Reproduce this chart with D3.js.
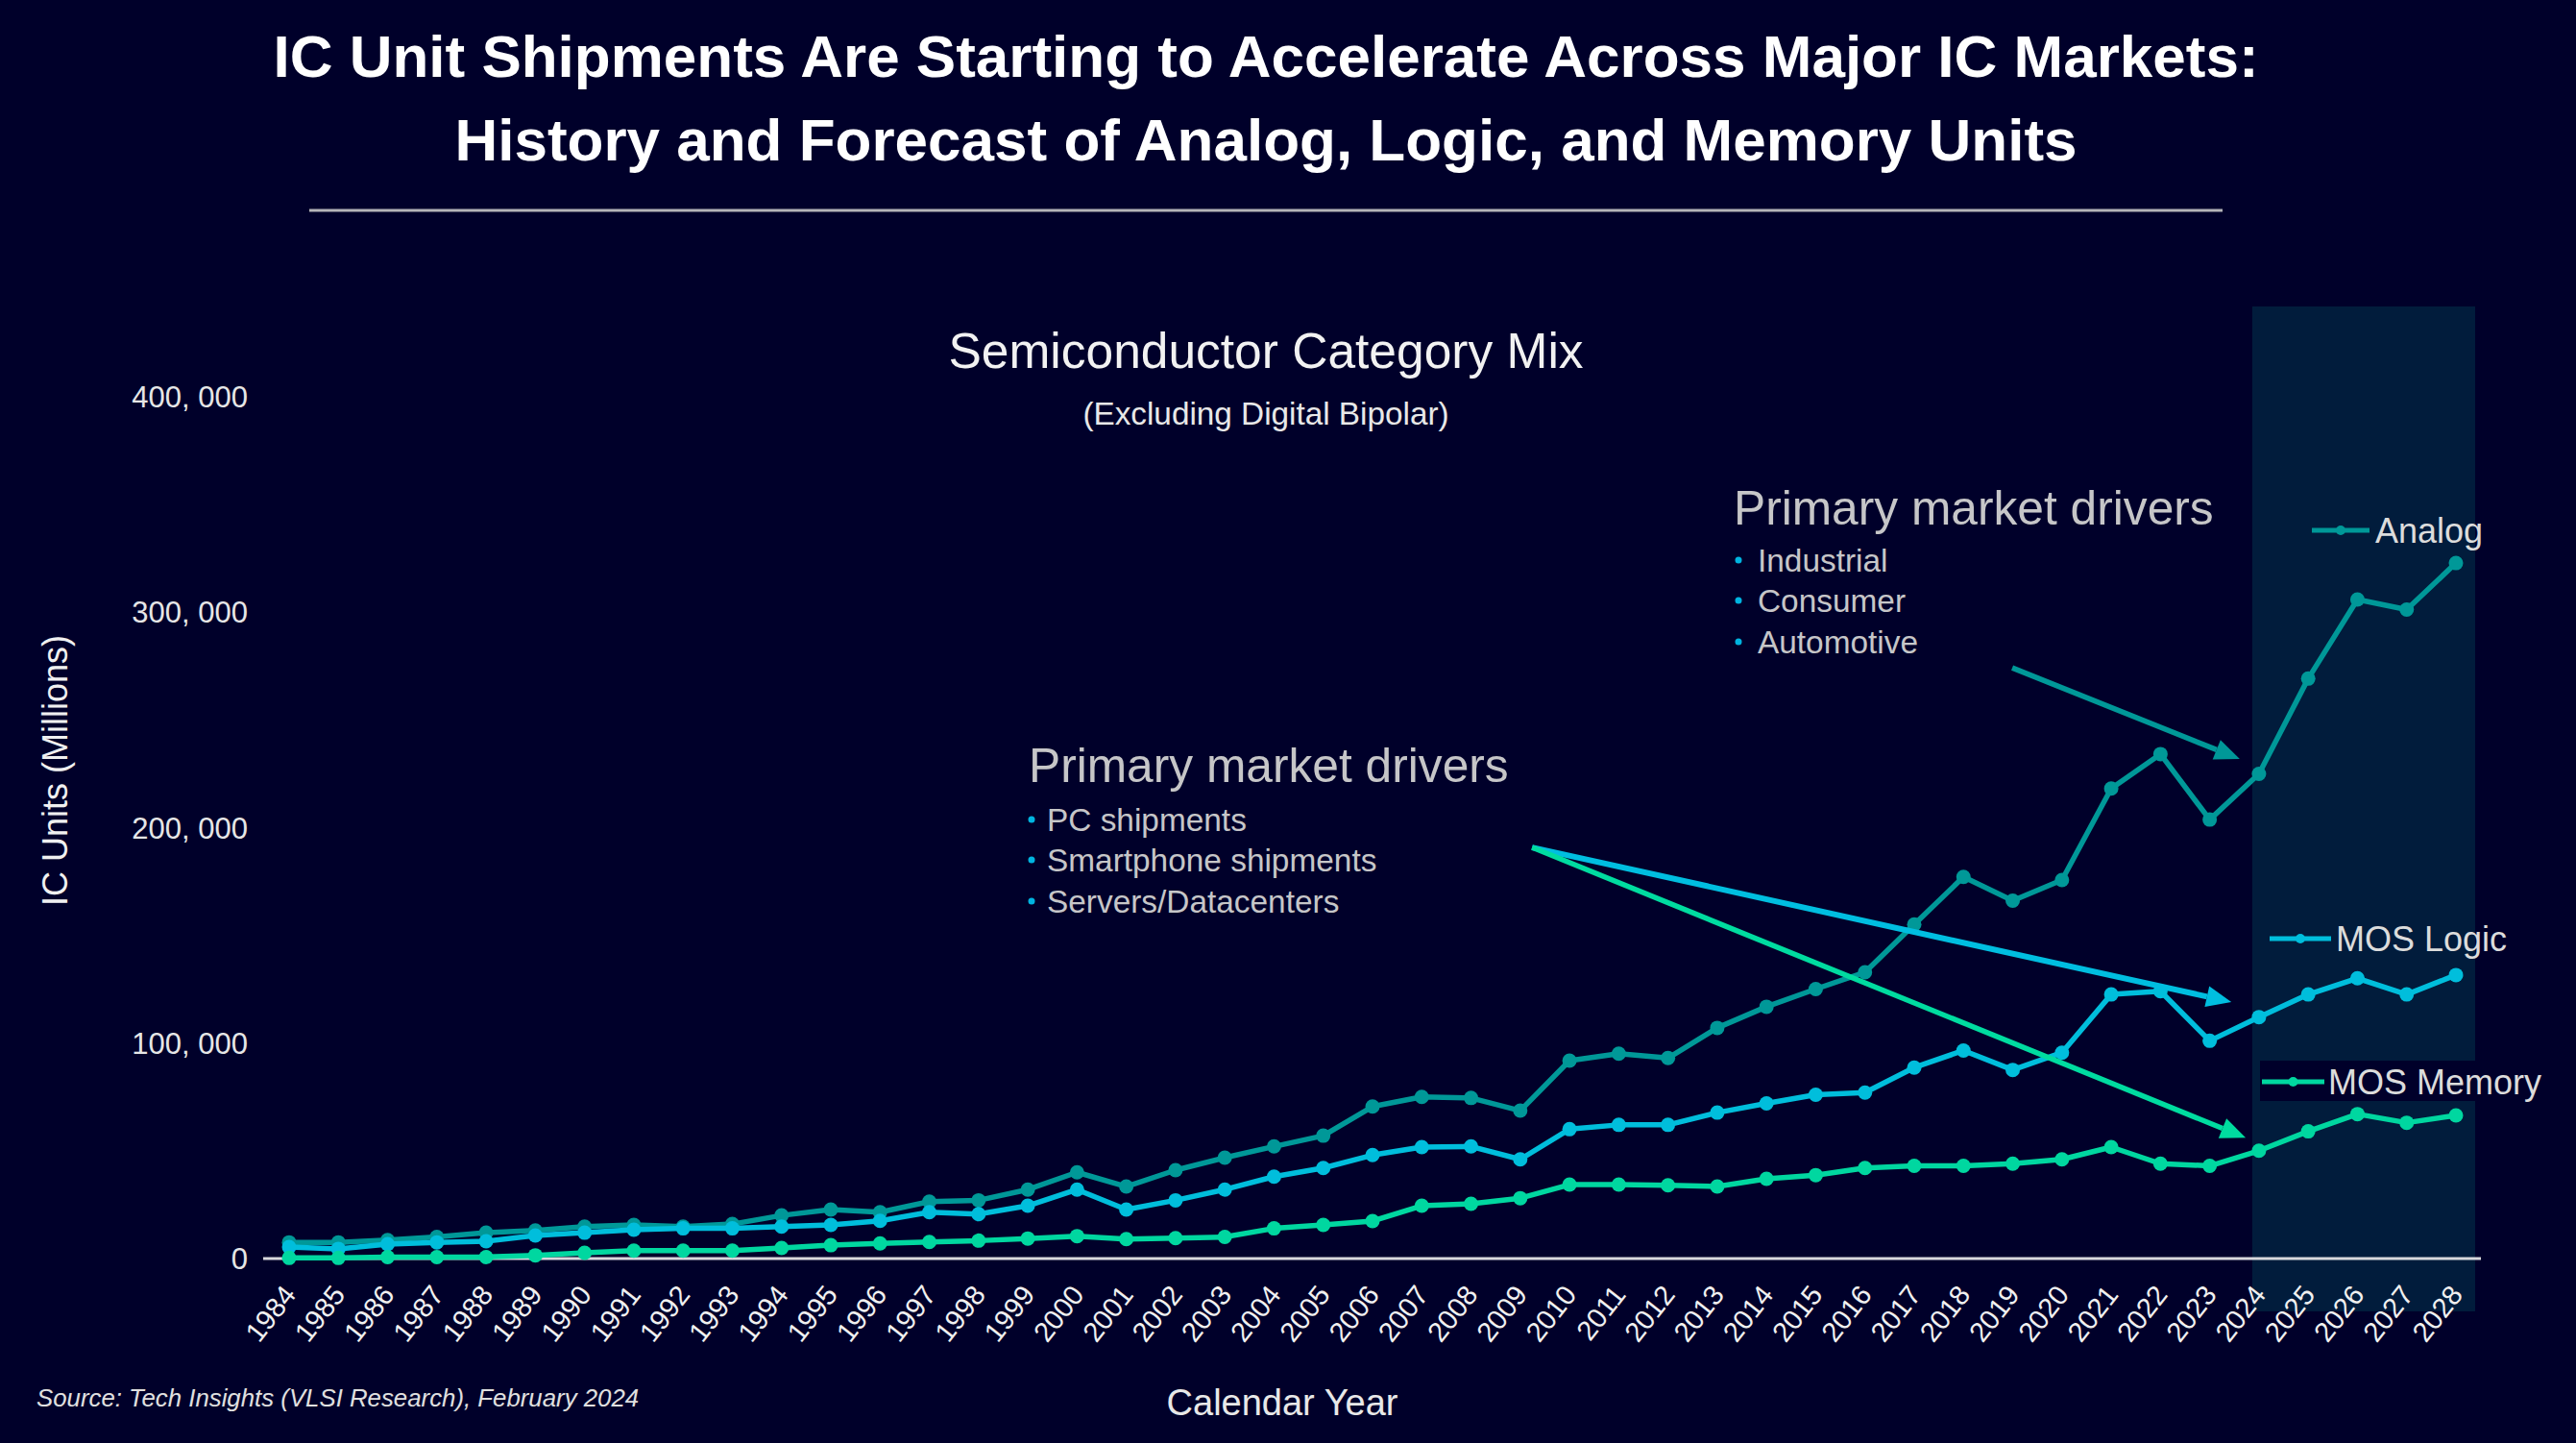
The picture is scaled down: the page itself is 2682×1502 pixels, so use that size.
<!DOCTYPE html>
<html>
<head>
<meta charset="utf-8">
<script src="https://cdn.jsdelivr.net/npm/d3@7"></script>
<style>
html,body{margin:0;padding:0;background:#00002a;}
svg{display:block;}
text{font-family:"Liberation Sans", Arial, Helvetica, sans-serif;}
</style>
</head>
<body>
<svg id="chart" width="2682" height="1502"></svg>
<script>
// ---------------- DATA ----------------
const years = [1984,1985,1986,1987,1988,1989,1990,1991,1992,1993,1994,1995,1996,1997,1998,1999,
  2000,2001,2002,2003,2004,2005,2006,2007,2008,2009,2010,2011,2012,2013,2014,2015,2016,2017,2018,2019,
  2020,2021,2022,2023,2024,2025,2026,2027,2028];

const analog = [7500,7500,8600,10000,12000,13000,14800,15600,14800,16000,20000,22700,21500,26400,27000,32000,
  40000,33400,41000,46800,52000,57000,70500,75000,74500,68600,91800,95000,93000,107000,116800,125000,132800,155000,177000,166000,
  175600,218000,234000,203600,224800,269000,305700,301000,322600];

const mosLogic = [5300,4500,6700,7500,8000,10700,12000,13400,14000,14000,14800,15600,17500,21500,20600,24500,
  32000,22700,27000,32000,38000,42000,48000,51700,52000,46000,60000,62000,62000,67700,72000,76000,77000,88600,96500,87500,
  95500,122500,124000,101000,112000,122500,130000,122500,131500];

const mosMemory = [300,300,700,700,700,1500,2700,3700,3700,3700,4900,6200,7000,7700,8300,9300,
  10400,9000,9500,10000,14000,15600,17400,24500,25400,28000,34300,34300,34000,33400,37000,38700,42000,43000,43000,44000,
  46000,51700,44000,43000,50000,59000,67000,63000,66400];

const yTicks = [0,100000,200000,300000,400000];

const seriesNames = ["Analog","MOS Logic","MOS Memory"];
const seriesColors = ["#009898","#00bedc","#00d7a0"];

const titleLines = ["IC Unit Shipments Are Starting to Accelerate Across Major IC Markets:",
                    "History and Forecast of Analog, Logic, and Memory Units"];
const chartTitle = "Semiconductor Category Mix";
const chartSubtitle = "(Excluding Digital Bipolar)";
const yLabel = "IC Units (Millions)";
const xLabel = "Calendar Year";
const sourceText = "Source: Tech Insights (VLSI Research), February 2024";

const driversHeading = "Primary market drivers";
const analogDrivers = ["Industrial","Consumer","Automotive"];
const digitalDrivers = ["PC shipments","Smartphone shipments","Servers/Datacenters"];

// arrows in data coordinates [year, value]
const arrowFrom = [[2018.99,274000],[2009.24,190700],[2009.24,190700]];
const arrowTo   = [[2023.61,231700],[2023.44,119000],[2023.73,56000]];
const arrowColors = ["#009898","#00bee0","#00dca0"];

// ---------------- CHART ----------------
const W = 2682, H = 1502;
const FONT = '"Liberation Sans", Arial, Helvetica, sans-serif';
const svg = d3.select("#chart");
svg.append("rect").attr("width",W).attr("height",H).attr("fill","#00002a");

const x = d3.scaleLinear().domain([1984,2028]).range([301,2557]);
const y = d3.scaleLinear().domain([0,400000]).range([1310,412.4]);

// forecast shading
svg.append("rect")
  .attr("x", x(2024)-7).attr("y", 319)
  .attr("width", (x(2028)+20) - (x(2024)-7))
  .attr("height", 1365-319)
  .attr("fill", "#011c3c");

// titles
svg.selectAll("text.title").data(titleLines).enter().append("text")
  .attr("class","title")
  .attr("x",1318).attr("y",(d,i)=> i===0 ? 80 : 167)
  .attr("text-anchor","middle")
  .attr("font-size",62).attr("font-weight","bold").attr("fill","#ffffff")
  .text(d=>d);

svg.append("line").attr("x1",322).attr("x2",2314).attr("y1",219).attr("y2",219)
  .attr("stroke","#b4b4b8").attr("stroke-width",3);

svg.append("text").attr("x",1318).attr("y",383).attr("text-anchor","middle")
  .attr("font-size",51.5).attr("fill","#f2f2f2").text(chartTitle);
svg.append("text").attr("x",1318).attr("y",442).attr("text-anchor","middle")
  .attr("font-size",33.3).attr("fill","#e8e8e8").text(chartSubtitle);

// y axis
const gy = svg.append("g").attr("transform","translate(258,0)")
  .call(d3.axisLeft(y).tickValues(yTicks).tickSize(0).tickPadding(0)
    .tickFormat(d => d3.format(",")(d).replace(/,/g, ", ")));
gy.select(".domain").remove();
gy.attr("font-family",FONT).attr("font-size",null);
gy.selectAll("text").attr("font-size",31).attr("fill","#e6e6e6").attr("dy","0.35em");

svg.append("text")
  .attr("transform","translate(57,802) rotate(-90)")
  .attr("text-anchor","middle").attr("dy","0.35em")
  .attr("font-size",36).attr("fill","#f0f0f0").text(yLabel);

// x axis
const gx = svg.append("g").attr("transform",`translate(0,${y(0)})`)
  .call(d3.axisBottom(x).tickValues(years).tickSize(0).tickFormat(d3.format("d")));
gx.select(".domain").remove();
gx.attr("font-family",FONT).attr("font-size",null);
gx.selectAll("text")
  .attr("y",0).attr("dy",0)
  .attr("text-anchor","end")
  .attr("transform","translate(8,38) rotate(-52)")
  .attr("font-size",29).attr("fill","#f0f0f0");

svg.append("line").attr("x1",274).attr("x2",2583).attr("y1",y(0)).attr("y2",y(0))
  .attr("stroke","#d8d8dc").attr("stroke-width",3);

svg.append("text").attr("x",1335).attr("y",1473).attr("text-anchor","middle")
  .attr("font-size",38).attr("fill","#e8e8e8").text(xLabel);
svg.append("text").attr("x",38).attr("y",1464)
  .attr("font-size",25.8).attr("font-style","italic").attr("fill","#e0e0e0").text(sourceText);

// series
const allSeries = [analog, mosLogic, mosMemory].map((vals,i)=>({
  name: seriesNames[i], color: seriesColors[i],
  values: years.map((yr,j)=>({year:yr, v:vals[j]}))
}));
const line = d3.line().x(d=>x(d.year)).y(d=>y(d.v));
const gs = svg.selectAll("g.series").data(allSeries).enter().append("g").attr("class","series");
gs.append("path").attr("d",d=>line(d.values)).attr("fill","none")
  .attr("stroke",d=>d.color).attr("stroke-width",5.5).attr("stroke-linejoin","round");
gs.selectAll("circle").data(d=>d.values.map(v=>({...v,color:d.color}))).enter().append("circle")
  .attr("cx",d=>x(d.year)).attr("cy",d=>y(d.v)).attr("r",7.5).attr("fill",d=>d.color);

// annotations text
function drivers(hx, hy, bulletX, textX, items, itemYs){
  svg.append("text").attr("x",hx).attr("y",hy).attr("font-size",49.7).attr("fill","#c6c6c8").text(driversHeading);
  items.forEach((t,i)=>{
    svg.append("circle").attr("cx",bulletX).attr("cy",itemYs[i]).attr("r",3.5).attr("fill","#00b4e0");
    svg.append("text").attr("x",textX).attr("y",itemYs[i]).attr("dy","0.36em")
      .attr("font-size",33.4).attr("fill","#c6c6c8").text(t);
  });
}
drivers(1805, 546, 1810, 1830, analogDrivers, [583,625,668]);
drivers(1071, 814, 1074, 1090, digitalDrivers, [853,895,938]);

// arrows
arrowFrom.forEach((f,i)=>{
  const x1=x(f[0]), y1=y(f[1]), x2=x(arrowTo[i][0]), y2=y(arrowTo[i][1]);
  const ang=Math.atan2(y2-y1,x2-x1), L=26, hw=11;
  const bx=x2-L*Math.cos(ang), by=y2-L*Math.sin(ang);
  svg.append("line").attr("x1",x1).attr("y1",y1).attr("x2",bx).attr("y2",by)
    .attr("stroke",arrowColors[i]).attr("stroke-width",i===1?6:5.5);
  const px=-Math.sin(ang), py=Math.cos(ang);
  svg.append("path")
    .attr("d",`M${x2},${y2}L${bx+hw*px},${by+hw*py}L${bx-hw*px},${by-hw*py}Z`)
    .attr("fill",arrowColors[i]);
});

// legend
const legendPos = [
  {x1:2407,x2:2467,y:552,tx:2473,box:null},
  {x1:2363,x2:2427,y:977,tx:2432,box:null},
  {x1:2355,x2:2420,y:1126,tx:2424,box:[2353,1104,295,42]}
];
legendPos.forEach((p,i)=>{
  const g=svg.append("g");
  if(p.box) g.append("rect").attr("x",p.box[0]).attr("y",p.box[1]).attr("width",p.box[2]).attr("height",p.box[3]).attr("fill","#00002a");
  g.append("line").attr("x1",p.x1).attr("x2",p.x2).attr("y1",p.y).attr("y2",p.y)
    .attr("stroke",seriesColors[i]).attr("stroke-width",5);
  g.append("circle").attr("cx",(p.x1+p.x2)/2).attr("cy",p.y).attr("r",5).attr("fill",seriesColors[i]);
  g.append("text").attr("x",p.tx).attr("y",p.y).attr("dy","0.36em")
    .attr("font-size",36).attr("fill","#dcdcdc").text(seriesNames[i]);
});
</script>
</body>
</html>
